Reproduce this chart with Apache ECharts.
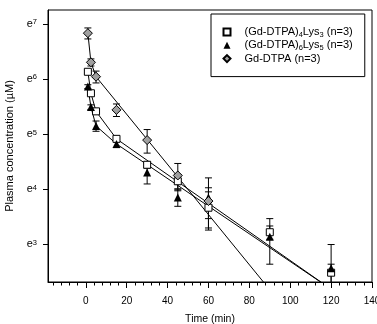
<!DOCTYPE html>
<html>
<head>
<meta charset="utf-8">
<script src="https://cdn.jsdelivr.net/npm/echarts@6/dist/echarts.min.js"></script>
<style>
html, body { margin: 0; padding: 0; background: #fff; }
#chart { width: 377px; height: 324px; }
</style>
</head>
<body>
<div id="chart"></div>
<script>
// 图例名称
var names = ['(Gd-DTPA)4Lys3 (n=3)', '(Gd-DTPA)6Lys5 (n=3)', 'Gd-DTPA (n=3)'];
var legendLabels = ['(Gd-DTPA){s|4}Lys{s|3} (n=3)', '(Gd-DTPA){s|6}Lys{s|5} (n=3)', 'Gd-DTPA (n=3)'];

// 采样时间 (min)
var times = [1, 2.5, 5, 15, 30, 45, 60, 90, 120];

// 血浆浓度 (µM) 均值 和 标准差
var lys3Mean = [459, 311, 224, 136, 85, 63, 39, 25, 12];
var lys3Sd = [10, 8, 8, 6, 5, 8, 13, 3, 2];
var lys5Mean = [351, 242, 172, 124, 74, 47, 47, 23, 13];
var lys5Sd = [12, 10, 16, 8, 14, 7, 20, 9, 7];
var dtpaMean = [925, 545, 420, 230, 133, 70, 44];
var dtpaSd = [92, 35, 45, 26, 28, 17, 12];

// 拟合线
var lys3FitT = [1, 2.5, 5, 15, 120];
var lys3Fit = [459, 311, 224, 136, 8.9];
var lys5FitT = [1, 2.5, 5, 15, 120];
var lys5Fit = [351, 242, 172, 124, 8.9];
var dtpaFitT = [1, 2.5, 5, 90];
var dtpaFit = [925, 545, 420, 8.8];

// 刻度
var xMajorTicks = [0, 20, 40, 60, 80, 100, 120, 140];
var xMinorTicks = [];
for (var t = -16; t <= 140; t += 4) {
    if (t % 20 !== 0) xMinorTicks.push(t);
}
var yExpTicks = [3, 4, 5, 6, 7];

var FONT = 'Liberation Sans, Arial, sans-serif';

function pairs(xs, ys) {
    return xs.map(function (x, i) { return [x, ys[i]]; });
}
function errData(xs, mean, sd) {
    return mean.map(function (m, i) { return [xs[i], m - sd[i], m + sd[i]]; });
}

function errorSeries(data) {
    return {
        type: 'custom',
        silent: true,
        clip: true,
        z: 3,
        data: data,
        encode: { x: 0, y: [1, 2] },
        renderItem: function (params, api) {
            var x = api.value(0);
            var lo = api.coord([x, api.value(1)]);
            var hi = api.coord([x, api.value(2)]);
            var w = 3.5;
            var st = { stroke: '#000', lineWidth: 1 };
            return {
                type: 'group',
                children: [
                    { type: 'line', shape: { x1: lo[0], y1: lo[1], x2: hi[0], y2: hi[1] }, style: st },
                    { type: 'line', shape: { x1: lo[0] - w, y1: lo[1], x2: lo[0] + w, y2: lo[1] }, style: st },
                    { type: 'line', shape: { x1: hi[0] - w, y1: hi[1], x2: hi[0] + w, y2: hi[1] }, style: st }
                ]
            };
        }
    };
}

function fitSeries(xs, ys) {
    return {
        type: 'line',
        silent: true,
        clip: true,
        symbol: 'none',
        z: 2,
        lineStyle: { color: '#000', width: 1 },
        data: pairs(xs, ys)
    };
}

var option = {
    animation: false,
    backgroundColor: '#fff',
    grid: {
        left: 48, top: 10, right: 5, bottom: 42,
        outerBoundsMode: 'none',
        containLabel: false,
        show: true,
        borderColor: '#000',
        borderWidth: 1
    },
    legend: {
        data: names,
        orient: 'vertical',
        left: 211,
        top: 14,
        padding: [11.5, 12, 11.5, 11.5],
        itemGap: 0.3,
        itemWidth: 7,
        itemHeight: 7,
        borderColor: '#000',
        borderWidth: 1,
        selectedMode: false,
        formatter: function (name) {
            return legendLabels[names.indexOf(name)];
        },
        textStyle: {
            fontFamily: FONT,
            fontSize: 11,
            color: '#000',
            lineHeight: 13,
            padding: [0, 0, 0, 9],
            rich: {
                s: { fontFamily: FONT, fontSize: 7.5, lineHeight: 9, verticalAlign: 'bottom', color: '#000' }
            }
        }
    },
    xAxis: [
        {
            type: 'value',
            min: -18.5,
            max: 140,
            position: 'bottom',
            name: 'Time (min)',
            nameLocation: 'middle',
            nameGap: 32,
            nameTextStyle: { fontFamily: FONT, fontSize: 10.5, color: '#000' },
            axisLine: { show: true, onZero: false, lineStyle: { color: '#000', width: 1 } },
            axisTick: { show: true, customValues: xMajorTicks, length: 6, lineStyle: { color: '#000' } },
            axisLabel: { customValues: xMajorTicks, margin: 14, fontFamily: FONT, fontSize: 10, color: '#000' },
            splitLine: { show: false }
        },
        {
            type: 'value',
            min: -18.5,
            max: 140,
            position: 'bottom',
            axisLine: { show: false, onZero: false },
            axisTick: { show: true, customValues: xMinorTicks, length: 3.5, lineStyle: { color: '#000' } },
            axisLabel: { show: false },
            splitLine: { show: false }
        }
    ],
    yAxis: {
        type: 'log',
        logBase: Math.E,
        min: Math.exp(2.316),
        max: Math.exp(7.25),
        name: 'Plasma concentration (µM)',
        nameLocation: 'middle',
        nameGap: 31,
        nameTextStyle: { fontFamily: FONT, fontSize: 11, color: '#000' },
        axisLine: { show: true, onZero: false, lineStyle: { color: '#000', width: 1 } },
        axisTick: { show: true, length: 5, customValues: yExpTicks.map(Math.exp), lineStyle: { color: '#000' } },
        axisLabel: {
            customValues: yExpTicks.map(Math.exp),
            margin: 11,
            fontFamily: FONT,
            fontSize: 11,
            color: '#000',
            formatter: function (v) {
                return 'e{p|' + Math.round(Math.log(v)) + '}';
            },
            rich: {
                p: { fontFamily: FONT, fontSize: 7.5, lineHeight: 9, verticalAlign: 'top', color: '#000' }
            }
        },
        splitLine: { show: false }
    },
    series: [
        fitSeries(lys3FitT, lys3Fit),
        fitSeries(lys5FitT, lys5Fit),
        fitSeries(dtpaFitT, dtpaFit),
        errorSeries(errData(times, lys3Mean, lys3Sd)),
        errorSeries(errData(times, lys5Mean, lys5Sd)),
        errorSeries(errData(times.slice(0, dtpaMean.length), dtpaMean, dtpaSd)),
        {
            name: names[0],
            type: 'scatter',
            symbol: 'rect',
            symbolSize: 7,
            z: 4,
            itemStyle: { color: '#fff', borderColor: '#000', borderWidth: 1, opacity: 1 },
            data: pairs(times, lys3Mean)
        },
        {
            name: names[1],
            type: 'scatter',
            symbol: 'triangle',
            symbolSize: 8,
            z: 4,
            itemStyle: { color: '#000', opacity: 1 },
            data: pairs(times, lys5Mean)
        },
        {
            name: names[2],
            type: 'scatter',
            symbol: 'diamond',
            symbolSize: 9,
            z: 4,
            itemStyle: { color: '#a0a0a0', borderColor: '#000', borderWidth: 1, opacity: 1 },
            data: pairs(times, dtpaMean)
        }
    ]
};

var chart = echarts.init(document.getElementById('chart'));
chart.setOption(option);
</script>
</body>
</html>
